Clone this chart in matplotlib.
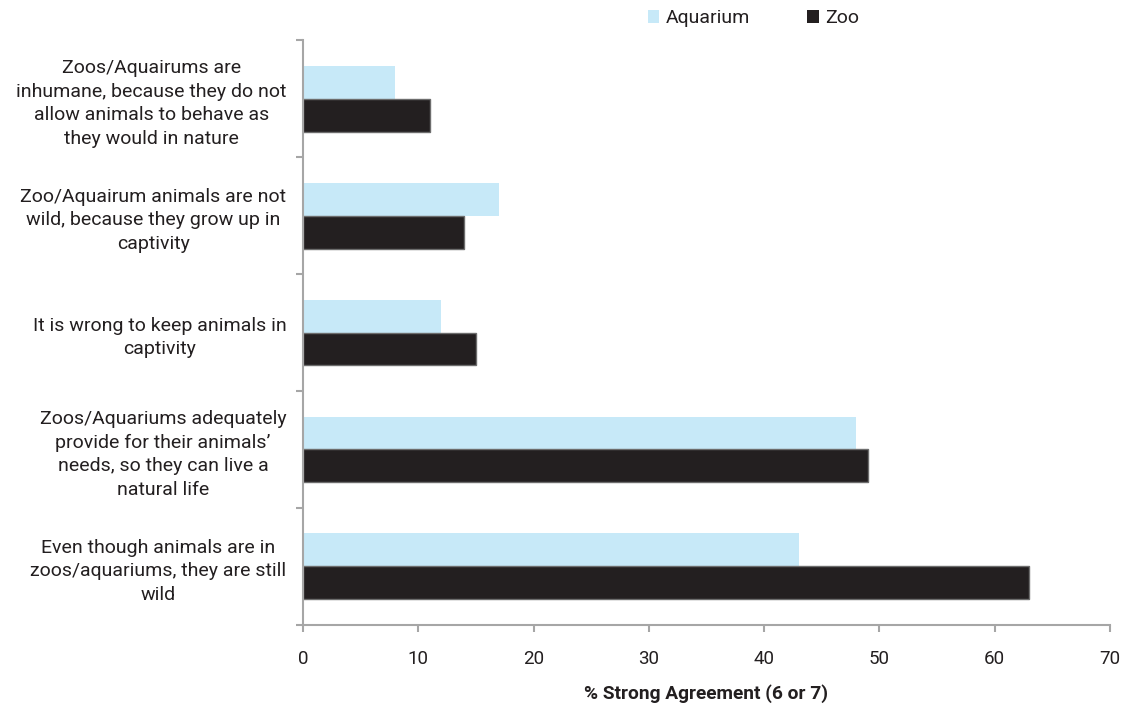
import matplotlib
matplotlib.use("Agg")
import matplotlib.pyplot as plt
import numpy as np
from matplotlib.patches import Patch

plt.rcParams['font.family'] = ['Roboto', 'DejaVu Sans']

statements = [
    "Zoos/Aquairums are\ninhumane, because they do not\nallow animals to behave as\nthey would in nature",
    "Zoo/Aquairum animals are not\nwild, because they grow up in\ncaptivity",
    "It is wrong to keep animals in\ncaptivity",
    "Zoos/Aquariums adequately\nprovide for their animals\u2019\nneeds, so they can live a\nnatural life",
    "Even though animals are in\nzoos/aquariums, they are still\nwild",
]
aquarium = [8, 17, 12, 48, 43]
zoo = [11, 14, 15, 49, 63]
x_ticks = [0, 10, 20, 30, 40, 50, 60, 70]

aq_color = "#c7e9f8"
zoo_color = "#231f20"
axis_color = "#a6a6a6"
text_color = "#231f20"

fig = plt.figure(figsize=(11.23, 7.07), dpi=100)
ax = fig.add_axes([0.2698, 0.116, 0.7186, 0.8274])

y = np.arange(len(statements))
h = 0.282
ax.barh(y - h / 2, aquarium, height=h, color=aq_color, edgecolor="none")
ax.barh(y + h / 2, zoo, height=h, color=zoo_color, edgecolor="#6d6d6d", linewidth=1.0)

ax.set_ylim(len(statements) - 0.5, -0.5)
ax.set_xlim(0, 70)
ax.set_xticks(x_ticks)
ax.set_xticklabels([str(v) for v in x_ticks], fontsize=13.5, color=text_color)
ax.tick_params(axis="x", direction="out", length=5, width=1.5, color=axis_color, pad=13)

ax.set_yticks(y)
ax.set_yticklabels(statements, fontsize=14, color=text_color, ha="right",
                   multialignment="center", linespacing=1.4)
ax.tick_params(axis="y", which="major", length=0, pad=12)
ax.set_yticks(np.arange(len(statements) + 1) - 0.5, minor=True)
ax.tick_params(axis="y", which="minor", direction="out", length=5, width=1.5, color=axis_color)

for side in ["top", "right"]:
    ax.spines[side].set_visible(False)
for side in ["left", "bottom"]:
    ax.spines[side].set_color(axis_color)
    ax.spines[side].set_linewidth(1.5)

ax.set_xlabel("% Strong Agreement (6 or 7)", fontsize=13.8, fontweight="bold",
              color=text_color, labelpad=12)

handles = [Patch(facecolor=aq_color, edgecolor="none", label="Aquarium"),
           Patch(facecolor=zoo_color, edgecolor="none", label="Zoo")]
fig.legend(handles=handles, loc="center", bbox_to_anchor=(0.671, 0.974), ncol=2,
           frameon=False, fontsize=14, handlelength=0.6, handleheight=0.6,
           handletextpad=0.35, columnspacing=2.9, labelcolor=text_color)

fig.savefig("out.png", dpi=100, facecolor="white")
